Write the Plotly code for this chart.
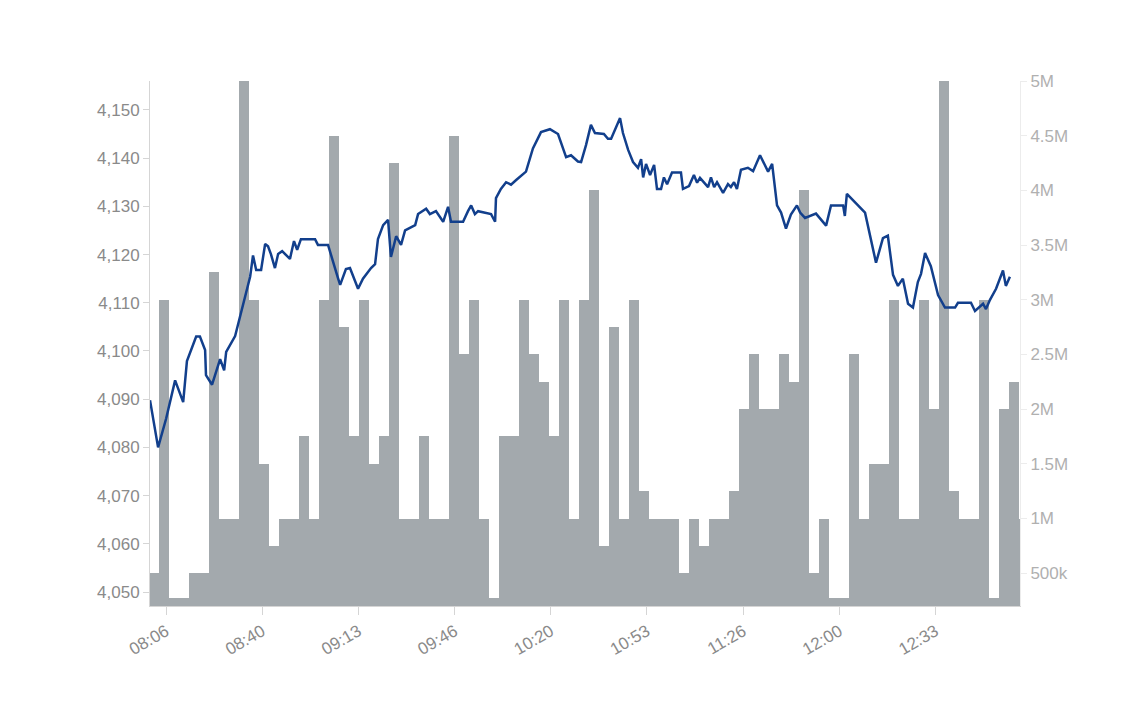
import pandas as pd
import plotly.graph_objects as go

# price line: minutes after 08:00 and index level
price_minutes = [1.1, 3.9, 6.7, 9.8, 12.6, 13.9, 17.1, 18.4, 20.2, 20.5, 22.6, 25.4, 26.8, 27.5,
                 30.6, 32.3, 34.0, 35.8, 36.8, 37.9, 39.6, 41.0, 42.0, 43.0, 44.4, 45.5, 46.9,
                 49.6, 51.0, 52.1, 53.4, 58.3, 59.3, 62.8, 66.3, 67.0, 69.0, 70.4, 73.2, 74.9,
                 77.7, 79.1, 80.1, 81.9, 83.6, 84.6, 86.4, 88.1, 89.5, 93.0, 94.0, 96.8, 98.1,
                 100.2, 102.7, 104.4, 105.4, 109.6, 111.3, 112.4, 113.7, 114.8, 119.3, 120.7,
                 121.0, 122.7, 124.5, 126.2, 127.9, 131.4, 133.8, 136.6, 139.7, 142.5, 145.3,
                 147.0, 149.4, 150.5, 152.2, 153.9, 155.3, 158.4, 159.8, 160.9, 164.0, 165.0,
                 166.8, 168.5, 170.2, 171.3, 172.0, 173.0, 174.4, 175.8, 176.8, 178.2, 179.2,
                 180.3, 182.0, 185.1, 185.8, 187.9, 189.6, 190.7, 191.7, 194.5, 195.5, 196.6,
                 197.6, 199.7, 201.4, 202.4, 203.5, 204.5, 205.9, 208.3, 210.1, 212.5, 215.3,
                 216.7, 218.4, 219.8, 221.5, 223.2, 225.3, 226.4, 228.1, 231.9, 235.4, 237.1,
                 241.3, 241.9, 242.6, 248.9, 252.7, 255.1, 256.8, 258.6, 260.3, 262.0, 263.8,
                 265.5, 267.2, 268.3, 269.7, 271.7, 274.2, 276.6, 280.1, 281.1, 285.6, 287.0,
                 289.8, 290.8, 292.2, 294.3, 296.7, 297.7, 299.1]
prices = [4089.8, 4080.0, 4086.0, 4093.9, 4089.4, 4097.9, 4103.0, 4103.0, 4100.2, 4095.0, 4093.0,
          4098.3, 4096.0, 4099.8, 4103.1, 4107.3, 4111.3, 4115.4, 4119.8, 4116.8, 4116.8, 4122.2,
          4121.7, 4120.1, 4117.2, 4120.1, 4120.7, 4119.1, 4122.8, 4121.0, 4123.2, 4123.2, 4122.0,
          4122.0, 4115.0, 4113.7, 4117.0, 4117.2, 4112.9, 4115.0, 4117.2, 4118.0, 4123.2, 4126.1,
          4127.2, 4119.5, 4123.8, 4122.0, 4125.0, 4126.1, 4128.4, 4129.5, 4128.4, 4129.0, 4126.8,
          4129.9, 4126.8, 4126.8, 4129.0, 4130.2, 4128.4, 4129.0, 4128.4, 4126.8, 4131.7, 4133.6,
          4135.0, 4134.5, 4135.4, 4137.2, 4142.0, 4145.4, 4146.0, 4145.0, 4140.2, 4140.6, 4139.3,
          4139.2, 4142.7, 4146.9, 4145.2, 4145.0, 4144.0, 4144.0, 4148.3, 4145.2, 4141.7, 4139.2,
          4138.0, 4139.8, 4136.0, 4138.8, 4136.5, 4138.6, 4133.6, 4133.6, 4136.0, 4134.6, 4137.0,
          4137.0, 4133.6, 4134.2, 4136.5, 4134.9, 4135.9, 4134.0, 4136.0, 4134.0, 4135.0, 4132.8,
          4134.6, 4134.0, 4135.0, 4133.6, 4137.6, 4138.0, 4137.3, 4140.6, 4137.2, 4138.8, 4130.2,
          4128.7, 4125.4, 4128.3, 4130.2, 4128.7, 4127.6, 4128.5, 4126.0, 4130.2, 4130.2, 4128.0,
          4132.6, 4128.7, 4118.3, 4123.4, 4123.9, 4115.8, 4113.5, 4115.0, 4109.8, 4109.0, 4114.3,
          4116.0, 4120.3, 4117.6, 4111.6, 4109.0, 4109.0, 4110.0, 4110.0, 4108.3, 4109.8, 4108.7,
          4110.6, 4112.9, 4116.7, 4113.5, 4115.4]

# volume bars, in millions, one per ~3.5 minute bucket from 08:02
volumes = [0.5, 3.0, 0.27, 0.27, 0.5, 0.5, 3.25, 1.0, 1.0, 5.0, 3.0, 1.5, 0.75, 1.0, 1.0, 1.75,
           1.0, 3.0, 4.5, 2.75, 1.75, 3.0, 1.5, 1.75, 4.25, 1.0, 1.0, 1.75, 1.0, 1.0, 4.5, 2.5,
           3.0, 1.0, 0.27, 1.75, 1.75, 3.0, 2.5, 2.25, 1.75, 3.0, 1.0, 3.0, 4.0, 0.75, 2.75, 1.0,
           3.0, 1.25, 1.0, 1.0, 1.0, 0.5, 1.0, 0.75, 1.0, 1.0, 1.25, 2.0, 2.5, 2.0, 2.0, 2.5,
           2.25, 4.0, 0.5, 1.0, 0.27, 0.27, 2.5, 1.0, 1.5, 1.5, 3.0, 1.0, 1.0, 3.0, 2.0, 5.0,
           1.25, 1.0, 1.0, 3.0, 0.27, 2.0, 2.25, 1.0]
bucket_start = 2.51
bucket_len = 3.465

day = pd.Timestamp("2020-01-02 08:00:00")
line_x = [day + pd.Timedelta(minutes=m) for m in price_minutes]
bar_x = [day + pd.Timedelta(minutes=bucket_start + i * bucket_len) for i in range(len(volumes))]
bar_w = bucket_len * 60 * 1000

tick_times = [day + pd.Timedelta(seconds=400 + 2000 * i) for i in range(9)]
vol_ticks = [0.5, 1, 1.5, 2, 2.5, 3, 3.5, 4, 4.5, 5]
vol_labels = ["500k", "1M", "1.5M", "2M", "2.5M", "3M", "3.5M", "4M", "4.5M", "5M"]

fig = go.Figure()
fig.add_trace(go.Bar(x=bar_x, y=volumes, width=bar_w, marker=dict(color="#a3a9ad", line=dict(width=0)),
                     yaxis="y", showlegend=False))
fig.add_trace(go.Scatter(x=line_x, y=prices, mode="lines", line=dict(color="#123f8c", width=2.5),
                         yaxis="y2", showlegend=False))

axis_font = dict(family="Liberation Sans, Arial", size=17, color="#8a8a8a")
fig.update_layout(
    width=1147, height=713,
    margin=dict(l=142, r=135, t=73, b=115),
    plot_bgcolor="white", paper_bgcolor="white",
    bargap=0,
    xaxis=dict(type="date", range=[day + pd.Timedelta(minutes=1.1), day + pd.Timedelta(minutes=302.6)],
               tickvals=tick_times, tickformat="%H:%M", tickangle=-30, tickfont=axis_font,
               showgrid=False, showline=True, linecolor="#d5d5d5", ticks="outside", ticklen=8,
               tickcolor="#d5d5d5", zeroline=False),
    yaxis=dict(side="right", range=[0.2, 5.0], tickvals=vol_ticks, ticktext=vol_labels,
               tickfont=dict(family="Liberation Sans, Arial", size=17, color="#b0b0b0"),
               showgrid=False, showline=True, linecolor="#ececec", ticks="outside", ticklen=6,
               tickcolor="#ececec", zeroline=False),
    yaxis2=dict(side="left", overlaying="y", range=[4047.1, 4156.0], dtick=10, tickformat=",",
                tickfont=axis_font, showgrid=False, showline=True, linecolor="#d5d5d5",
                ticks="outside", ticklen=6, tickcolor="#d5d5d5", zeroline=False),
)

fig.write_html("out.html")
